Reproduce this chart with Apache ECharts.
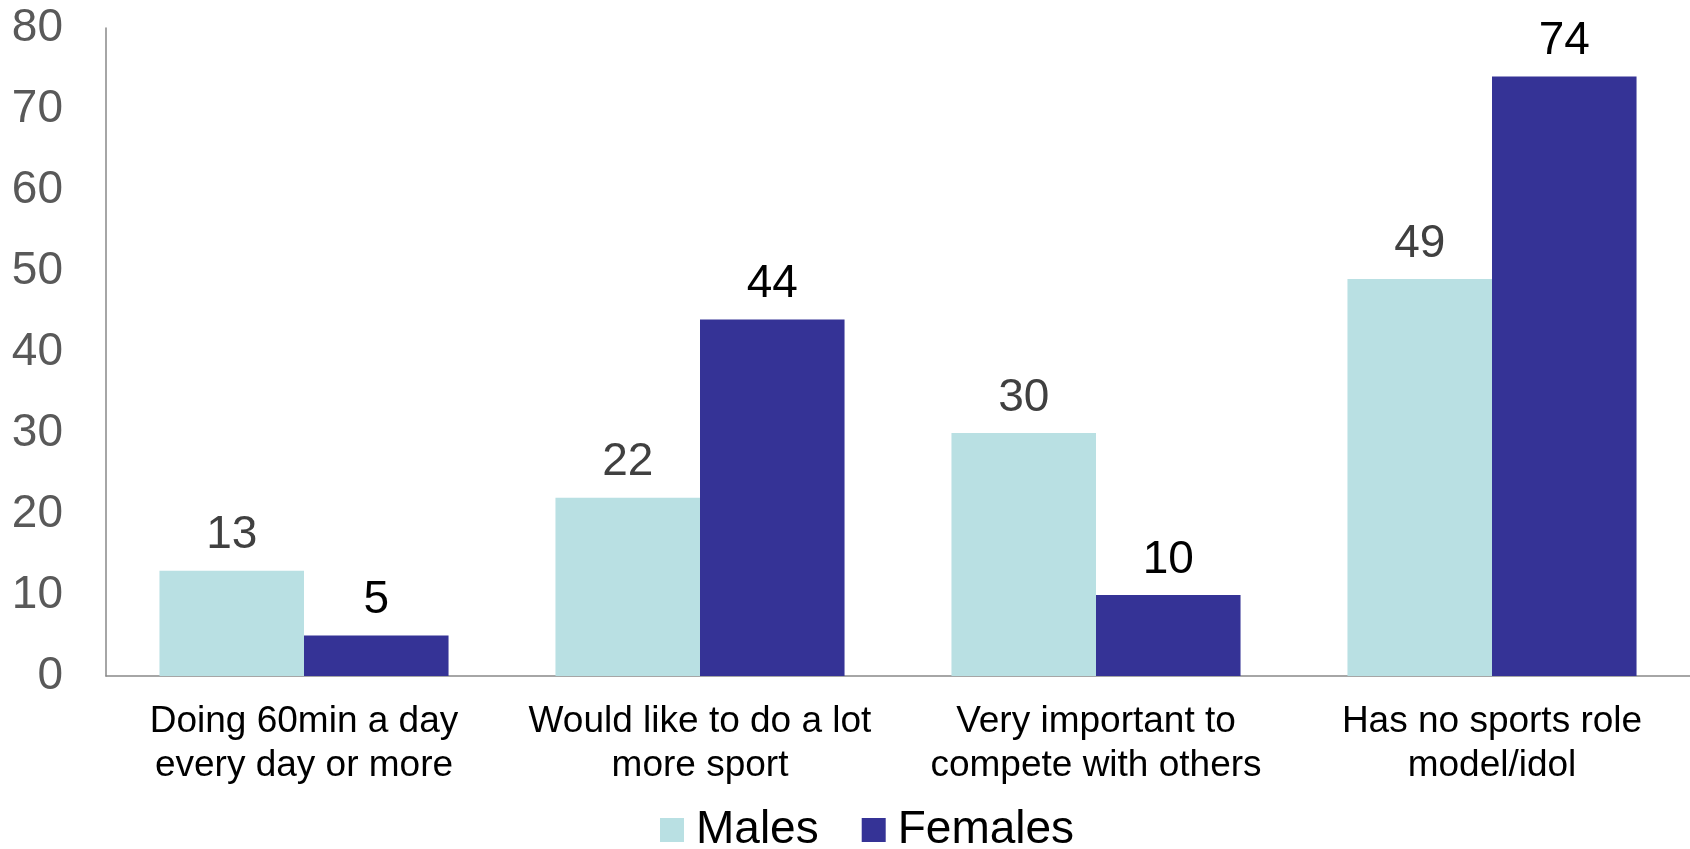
<!DOCTYPE html>
<html>
<head>
<meta charset="utf-8">
<script src="https://cdn.jsdelivr.net/npm/echarts@6/dist/echarts.min.js"></script>
<style>
html,body{margin:0;padding:0;background:#fff;}
#chart{width:1690px;height:849px;}
</style>
</head>
<body>
<div id="chart"></div>
<script>
const categories = [
  "Doing 60min a day\nevery day or more",
  "Would like to do a lot\nmore sport",
  "Very important to\ncompete with others",
  "Has no sports role\nmodel/idol"
];
const males = [13, 22, 30, 49];
const females = [5, 44, 10, 74];
const seriesNames = ["Males", "Females"];

const FONT = "'Liberation Sans', Arial, sans-serif";
const chart = echarts.init(document.getElementById('chart'));
chart.setOption({
  animation: false,
  grid: { left: 106, right: 0, top: 28, bottom: 173, containLabel: false },
  legend: {
    data: seriesNames,
    left: 655,
    top: 802,
    itemWidth: 24,
    itemHeight: 24,
    itemGap: 43,
    icon: 'rect',
    textStyle: { fontFamily: FONT, fontSize: 46, color: '#000', padding: [0, 0, 0, 7] }
  },
  xAxis: {
    type: 'category',
    data: categories,
    axisLine: { lineStyle: { color: '#898989', width: 1.5 } },
    axisTick: { show: false },
    axisLabel: { fontFamily: FONT, fontSize: 37, color: '#000', lineHeight: 44, margin: 24, interval: 0 }
  },
  yAxis: {
    type: 'value',
    min: 0, max: 80, interval: 10,
    axisLine: { show: true, lineStyle: { color: '#898989', width: 1.5 } },
    axisTick: { show: false },
    splitLine: { show: false },
    axisLabel: { fontFamily: FONT, fontSize: 46, color: '#595959', margin: 43 }
  },
  series: [
    {
      name: seriesNames[0], type: 'bar', data: males,
      barCategoryGap: '27%', barGap: '0%',
      itemStyle: { color: '#B9E0E3' },
      label: { show: true, position: 'top', distance: 12, fontFamily: FONT, fontSize: 46, color: '#404040' }
    },
    {
      name: seriesNames[1], type: 'bar', data: females,
      barCategoryGap: '27%', barGap: '0%',
      itemStyle: { color: '#353396' },
      label: { show: true, position: 'top', distance: 12, fontFamily: FONT, fontSize: 46, color: '#000' }
    }
  ]
});
</script>
</body>
</html>
